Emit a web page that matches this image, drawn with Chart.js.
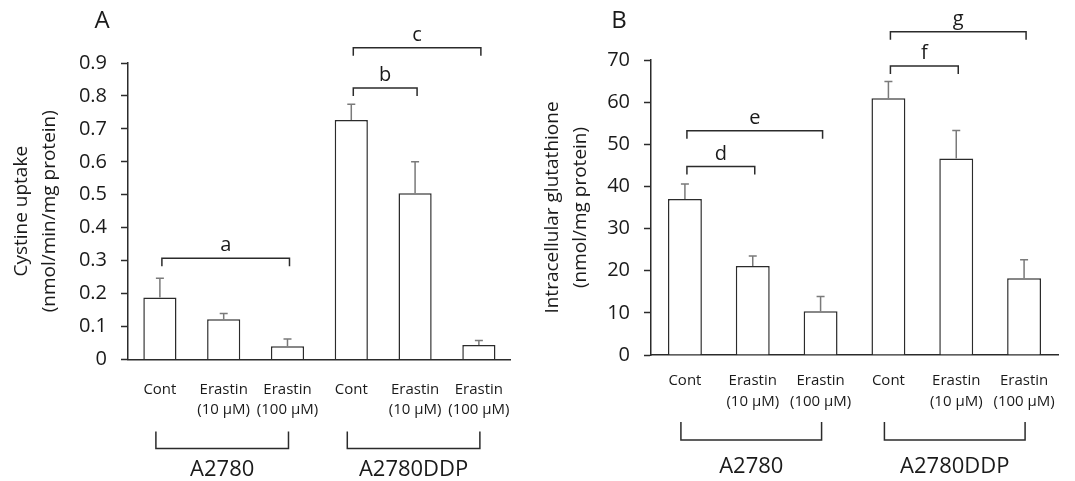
<!DOCTYPE html>
<html lang="en">

<head>
  <meta charset="UTF-8">
  <script src="https://cdn.jsdelivr.net/npm/chart.js"></script>
  <title>Cystine uptake and intracellular glutathione</title>
  <style>
    body {
      margin: 0;
      background: #fff;
    }

    canvas {
      position: absolute;
      top: 0;
    }

    #chartA { left: 0; }
    #chartB { left: 531px; }
  </style>
</head>

<body>
  <canvas id="chartA" width="531" height="481"></canvas>
  <canvas id="chartB" width="544" height="481"></canvas>

  <script>
    // categories shared by both panels
    const categories = [
      ['Cont'], ['Erastin', '(10 µM)'], ['Erastin', '(100 µM)'],
      ['Cont'], ['Erastin', '(10 µM)'], ['Erastin', '(100 µM)']
    ];
    const groups = ['A2780', 'A2780DDP'];
    const groupRanges = [[0, 2], [3, 5]];

    // panel A: cystine uptake
    const uptakeMean = [0.188, 0.122, 0.040, 0.727, 0.505, 0.044];
    const uptakeSD = [0.059, 0.018, 0.022, 0.048, 0.095, 0.014];
    // [letter, from bar, to bar, bracket level]
    const uptakeSig = [['a', 0, 2, 0.307], ['b', 3, 4, 0.824], ['c', 3, 5, 0.946]];

    // panel B: intracellular glutathione
    const gshMean = [37.0, 21.1, 10.4, 60.9, 46.6, 18.2];
    const gshSD = [3.6, 2.4, 3.5, 4.0, 6.7, 4.4];
    const gshSig = [['d', 0, 1, 44.7], ['e', 0, 2, 53.2], ['f', 3, 4, 68.6], ['g', 3, 5, 76.7]];

    const family = "'Open Sans', sans-serif";
    const ink = '#1a1a1a';
    const lineCol = '#2b2b2b';
    const errCol = '#7a7a7a';

    // error bars, significance brackets, group brackets, panel letter
    const decor = {
      id: 'decor',
      afterDraw(chart) {
        const p = chart.options.plugins.decor;
        const ctx = chart.ctx;
        const x = chart.scales.x;
        const y = chart.scales.y;
        const bars = chart.getDatasetMeta(0).data;
        ctx.save();

        // error bars (upper only)
        ctx.strokeStyle = errCol;
        ctx.lineWidth = 1.5;
        p.means.forEach((m, i) => {
          const bx = bars[i].x;
          const yTop = y.getPixelForValue(m + p.sd[i]);
          ctx.beginPath();
          ctx.moveTo(bx, bars[i].y);
          ctx.lineTo(bx, yTop);
          ctx.moveTo(bx - 4, yTop);
          ctx.lineTo(bx + 4, yTop);
          ctx.stroke();
        });

        // significance brackets
        ctx.strokeStyle = lineCol;
        ctx.fillStyle = ink;
        ctx.font = '20px ' + family;
        ctx.textAlign = 'center';
        ctx.textBaseline = 'alphabetic';
        p.sig.forEach(([letter, a, b, level]) => {
          const x1 = x.getPixelForValue(a) + 2;
          const x2 = x.getPixelForValue(b) + 2;
          const yy = y.getPixelForValue(level);
          ctx.beginPath();
          ctx.moveTo(x1, yy + 8);
          ctx.lineTo(x1, yy);
          ctx.lineTo(x2, yy);
          ctx.lineTo(x2, yy + 8);
          ctx.stroke();
          ctx.fillText(letter, (x1 + x2) / 2, yy - 7);
        });

        // cell line brackets below the categories
        const base = chart.chartArea.bottom;
        ctx.font = '22px ' + family;
        ctx.textBaseline = 'middle';
        groupRanges.forEach(([a, b], g) => {
          const x1 = x.getPixelForValue(a) - 4;
          const x2 = x.getPixelForValue(b) + 1;
          ctx.beginPath();
          ctx.moveTo(x1, base + p.groupY[0]);
          ctx.lineTo(x1, base + p.groupY[1]);
          ctx.lineTo(x2, base + p.groupY[1]);
          ctx.lineTo(x2, base + p.groupY[0]);
          ctx.stroke();
          ctx.fillText(groups[g], (x1 + x2) / 2, base + p.groupY[2]);
        });

        // panel letter
        ctx.font = '24px ' + family;
        ctx.fillText(p.letter, p.letterX, 21);
        ctx.restore();
      }
    };

    function makePanel(id, p) {
      new Chart(document.getElementById(id), {
        type: 'bar',
        data: {
          labels: categories,
          datasets: [{
            data: p.means,
            backgroundColor: '#fff',
            borderColor: lineCol,
            borderWidth: 1.5,
            barPercentage: p.barPct,
            categoryPercentage: 1
          }]
        },
        options: {
          responsive: false,
          animation: false,
          events: [],
          layout: { padding: { top: p.top, right: p.right, left: 0, bottom: 0 } },
          plugins: {
            legend: { display: false },
            tooltip: { enabled: false },
            decor: p
          },
          scales: {
            x: {
              grid: { display: false, drawTicks: false },
              border: { color: lineCol, width: 1.5 },
              ticks: {
                color: ink,
                font: { family: family, size: 15, lineHeight: 1.35 },
                padding: p.labelPad,
                autoSkip: false,
                maxRotation: 0
              },
              afterFit: s => { s.height = p.xHeight; }
            },
            y: {
              min: 0,
              max: p.max,
              ticks: {
                stepSize: p.step,
                padding: 14,
                color: ink,
                font: { family: family, size: 20 },
                callback: v => String(+v.toFixed(1))
              },
              grid: { drawOnChartArea: false, tickLength: 7, tickColor: lineCol, tickWidth: 1.5 },
              border: { color: lineCol, width: 1.5 },
              title: {
                display: true,
                text: p.title,
                color: ink,
                font: { family: family, size: 19, lineHeight: 1.5 },
                padding: { top: p.titlePad }
              },
              afterFit: s => { s.width = p.yWidth; }
            }
          }
        },
        plugins: [decor]
      });
    }

    makePanel('chartA', {
      letter: 'A', letterX: 102,
      title: ['Cystine uptake', '(nmol/min/mg protein)'],
      means: uptakeMean, sd: uptakeSD, sig: uptakeSig,
      max: 0.9, step: 0.1, barPct: 0.52,
      yWidth: 128, xHeight: 121.5, top: 63, right: 18,
      labelPad: 20, titlePad: 7, groupY: [72, 89, 110]
    });

    makePanel('chartB', {
      letter: 'B', letterX: 88,
      title: ['Intracellular glutathione', '(nmol/mg protein)'],
      means: gshMean, sd: gshSD, sig: gshSig,
      max: 70, step: 10, barPct: 0.5,
      yWidth: 120, xHeight: 126, top: 60, right: 17,
      labelPad: 16, titlePad: 7, groupY: [67, 85, 112]
    });
  </script>
</body>

</html>
